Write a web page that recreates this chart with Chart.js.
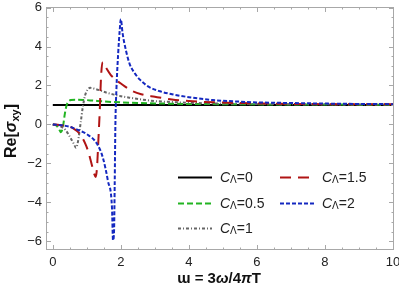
<!DOCTYPE html>
<html>
<head>
<meta charset="utf-8">
<script src="https://cdn.jsdelivr.net/npm/chart.js"></script>
<style>
  html, body { margin: 0; padding: 0; background: #fff; }
</style>
</head>
<body>
<canvas id="sigma-chart" width="399" height="296"></canvas>
<script>
// x axis: 3ω/4πT, y axis: Re[σxy]
const xBlack = [0, 10];
const yBlack = [1, 1];

const xGreen = [0, 0.1, 0.17, 0.24, 0.3, 0.35, 0.4, 0.45, 0.53, 0.7, 0.9, 1.2, 1.5, 2, 2.5, 3, 4, 5, 6, 8, 10];
const yGreen = [0, -0.05, -0.2, -0.4, -0.1, 0.5, 0.95, 1.15, 1.25, 1.27, 1.26, 1.22, 1.18, 1.13, 1.1, 1.08, 1.05, 1.04, 1.03, 1.02, 1.01];

const xGray = [0, 0.2, 0.38, 0.53, 0.62, 0.68, 0.72, 0.76, 0.82, 0.88, 0.95, 1.03, 1.1, 1.25, 1.4, 1.6, 1.8, 2, 2.3, 2.6, 3, 3.5, 4, 5, 6, 8, 10];
const yGray = [0, -0.08, -0.3, -0.72, -1.0, -1.2, -1.05, -0.67, 0.1, 0.87, 1.5, 1.8, 1.88, 1.82, 1.74, 1.62, 1.53, 1.45, 1.36, 1.28, 1.2, 1.15, 1.11, 1.07, 1.05, 1.03, 1.02];

const xRed = [0, 0.2, 0.4, 0.6, 0.8, 0.97, 1.06, 1.15, 1.22, 1.26, 1.3, 1.34, 1.38, 1.42, 1.47, 1.55, 1.7, 1.85, 2, 2.3, 2.6, 3, 3.5, 4, 5, 6, 8, 10];
const yRed = [0, -0.03, -0.08, -0.2, -0.5, -1.05, -1.5, -2.1, -2.55, -2.7, -2.2, -0.8, 0.7, 2.5, 3.2, 2.95, 2.55, 2.3, 2.1, 1.75, 1.55, 1.42, 1.28, 1.2, 1.12, 1.08, 1.04, 1.03];

const xBlue = [0, 0.3, 0.5, 0.76, 1.0, 1.29, 1.47, 1.62, 1.74, 1.77, 1.8, 1.82, 1.84, 1.87, 1.92, 1.97, 2.0, 2.05, 2.15, 2.26, 2.4, 2.56, 2.8, 3.15, 3.5, 4, 4.7, 5.5, 6, 7, 8, 9, 10];
const yBlue = [0, -0.05, -0.12, -0.3, -0.5, -0.97, -1.7, -2.9, -4.3, -5.95, -5.5, -3, 0, 1.8, 3.6, 4.9, 5.4, 4.7, 3.8, 3.1, 2.65, 2.3, 1.95, 1.7, 1.55, 1.4, 1.25, 1.17, 1.13, 1.1, 1.07, 1.05, 1.04];

const legendValues = ['0', '0.5', '1', '1.5', '2'];
const xTicks = [0, 2, 4, 6, 8, 10];
const yTicks = [-6, -4, -2, 0, 2, 4, 6];

const FONT = "'Liberation Sans', Arial, sans-serif";

function pts(xs, ys) {
  return xs.map((x, i) => ({x: x, y: ys[i]}));
}

function line(label, xs, ys, color, dash, order) {
  return {
    label: label,
    data: pts(xs, ys),
    borderColor: color,
    borderWidth: 2,
    borderDash: dash,
    pointRadius: 0,
    fill: false,
    cubicInterpolationMode: 'monotone',
    order: order
  };
}

// draws pieces [text, font, dy] one after another
function drawPieces(ctx, pieces, x, y) {
  let cx = x;
  pieces.forEach(p => {
    ctx.font = p[1];
    ctx.fillText(p[0], cx, y + (p[2] || 0));
    cx += ctx.measureText(p[0]).width;
  });
}
function piecesWidth(ctx, pieces) {
  let w = 0;
  pieces.forEach(p => { ctx.font = p[1]; w += ctx.measureText(p[0]).width; });
  return w;
}

const framePlugin = {
  id: 'frame',
  afterDraw(chart) {
    const ctx = chart.ctx;
    const a = chart.chartArea;
    const xs = chart.scales.x, ys = chart.scales.y;
    ctx.save();
    ctx.strokeStyle = '#a8a8a8';
    ctx.lineWidth = 1;
    ctx.strokeRect(a.left + 0.5, a.top + 0.5, a.right - a.left - 1, a.bottom - a.top - 1);
    ctx.beginPath();
    for (let v = 0; v <= 10.001; v += 0.5) {
      const len = (Math.abs(v % 2) < 0.01) ? 5 : 2.5;
      const px = Math.round(xs.getPixelForValue(v)) + 0.5;
      ctx.moveTo(px, a.bottom); ctx.lineTo(px, a.bottom - len);
      ctx.moveTo(px, a.top); ctx.lineTo(px, a.top + len);
    }
    for (let v = -6; v <= 6.001; v += 0.5) {
      const len = (Math.abs(v % 2) < 0.01) ? 5 : 2.5;
      const py = Math.round(ys.getPixelForValue(v)) + 0.5;
      ctx.moveTo(a.left, py); ctx.lineTo(a.left + len, py);
      ctx.moveTo(a.right, py); ctx.lineTo(a.right - len, py);
    }
    ctx.stroke();

    // axis titles
    ctx.fillStyle = '#111';
    ctx.textBaseline = 'alphabetic';
    ctx.textAlign = 'left';
    const xt = [
      ['\u026F = 3', 'bold 15px ' + FONT],
      ['\u03C9', 'italic bold 15px ' + FONT],
      ['/4', 'bold 15px ' + FONT],
      ['\u03C0', 'italic bold 15px ' + FONT],
      ['T', 'bold 15px ' + FONT]
    ];
    drawPieces(ctx, xt, 219 - piecesWidth(ctx, xt) / 2, 283);

    const yt = [
      ['Re[', 'bold 16px ' + FONT],
      ['\u03C3', 'italic bold 16px ' + FONT],
      ['xy', 'bold 11px ' + FONT, 3],
      [']', 'bold 16px ' + FONT]
    ];
    ctx.save();
    ctx.translate(10, 131);
    ctx.rotate(-Math.PI / 2);
    drawPieces(ctx, yt, -piecesWidth(ctx, yt) / 2, 5.5);
    ctx.restore();

    // legend
    const rows = [[178, 177], [178, 203], [178, 228], [280, 177], [280, 203]];
    chart.data.datasets.forEach((ds, i) => {
      const [lx, ly] = rows[i];
      ctx.save();
      ctx.strokeStyle = ds.borderColor;
      ctx.lineWidth = 2;
      ctx.setLineDash(ds.borderDash || []);
      ctx.beginPath();
      ctx.moveTo(lx, ly + 0.5);
      ctx.lineTo(lx + 34, ly + 0.5);
      ctx.stroke();
      ctx.restore();
      ctx.fillStyle = '#222';
      drawPieces(ctx, [
        ['C', 'italic 14px ' + FONT],
        ['\u039B', '10px ' + FONT, 1],
        ['=' + legendValues[i], '14px ' + FONT]
      ], lx + 42, ly + 5);
    });
    ctx.restore();
  }
};

new Chart(document.getElementById('sigma-chart'), {
  type: 'line',
  data: {
    datasets: [
      line('C\u039B=0', xBlack, yBlack, '#000000', [], 4),
      line('C\u039B=0.5', xGreen, yGreen, '#22b422', [6, 3], 3),
      line('C\u039B=1', xGray, yGray, '#666666', [3, 2, 1, 2], 2),
      line('C\u039B=1.5', xRed, yRed, '#b01414', [11, 7], 1),
      line('C\u039B=2', xBlue, yBlue, '#1428c0', [4, 2], 0)
    ]
  },
  options: {
    responsive: false,
    animation: false,
    layout: { padding: { top: 7, right: 5, left: 0, bottom: 0 } },
    plugins: { legend: { display: false }, tooltip: { enabled: false } },
    scales: {
      x: {
        type: 'linear',
        min: -0.2,
        max: 10.03,
        grid: { display: false, drawTicks: false },
        border: { display: false },
        ticks: { color: '#222', padding: 5, font: { family: FONT, size: 13 } },
        afterBuildTicks: s => { s.ticks = xTicks.map(v => ({value: v})); },
        afterFit: s => { s.height = 46; s.paddingLeft = 0; s.paddingRight = 0; }
      },
      y: {
        min: -6.45,
        max: 6.03,
        grid: { display: false, drawTicks: false },
        border: { display: false },
        ticks: {
          color: '#222', padding: 4, font: { family: FONT, size: 13 },
          callback: v => v < 0 ? '\u2212' + Math.abs(v) : String(v)
        },
        afterBuildTicks: s => { s.ticks = yTicks.map(v => ({value: v})); },
        afterFit: s => { s.width = 46; s.paddingTop = 0; s.paddingBottom = 0; }
      }
    }
  },
  plugins: [framePlugin]
});
</script>
</body>
</html>
